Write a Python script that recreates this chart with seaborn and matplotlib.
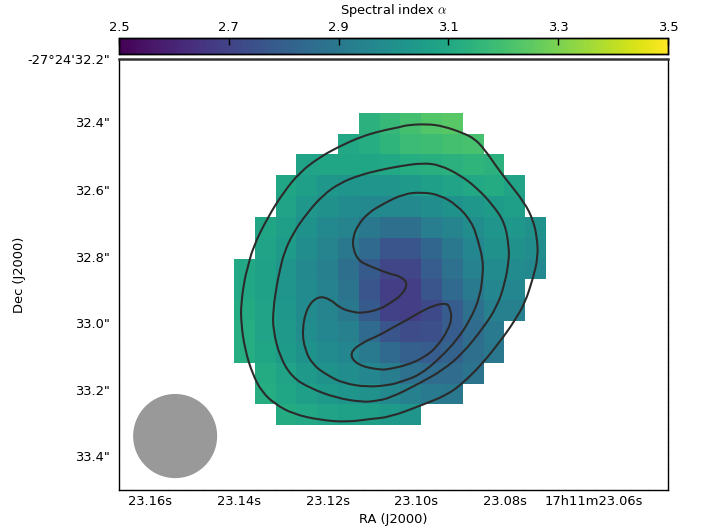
import numpy as np
import pandas as pd
import seaborn as sns
import matplotlib.pyplot as plt
from matplotlib.patches import Circle, PathPatch
from matplotlib.path import Path
from matplotlib.ticker import FixedLocator

plt.rcParams['mathtext.fontset'] = 'cm'

# Spectral index per map pixel, row by row from the top: (first column, values)
rows = [
    (6, [3.14, 3.17, 3.20, 3.23, 3.24]),
    (5, [3.10, 3.12, 3.15, 3.18, 3.19, 3.20, 3.21]),
    (3, [3.08, 3.09, 3.09, 3.09, 3.10, 3.12, 3.13, 3.14, 3.15, 3.14]),
    (2, [3.09, 3.06, 3.03, 3.02, 3.02, 3.02, 3.04, 3.06, 3.08, 3.10, 3.11, 3.08]),
    (2, [3.08, 3.03, 3.00, 2.98, 2.97, 2.97, 2.97, 2.99, 3.01, 3.03, 3.05, 3.06]),
    (1, [3.09, 3.06, 3.01, 2.97, 2.95, 2.90, 2.86, 2.86, 2.92, 2.95, 2.99, 3.02, 3.03, 3.00]),
    (1, [3.08, 3.05, 2.99, 2.95, 2.90, 2.84, 2.76, 2.76, 2.83, 2.90, 2.96, 3.00, 3.00, 2.99]),
    (0, [3.10, 3.07, 3.02, 2.97, 2.93, 2.86, 2.78, 2.71, 2.71, 2.79, 2.87, 2.94, 2.98, 2.98, 2.97]),
    (0, [3.10, 3.07, 3.02, 2.98, 2.94, 2.88, 2.76, 2.68, 2.68, 2.76, 2.84, 2.91, 2.96, 2.96]),
    (0, [3.11, 3.08, 3.03, 2.98, 2.95, 2.90, 2.78, 2.69, 2.68, 2.72, 2.79, 2.87, 2.93, 2.93]),
    (0, [3.12, 3.08, 3.04, 2.99, 2.96, 2.93, 2.84, 2.76, 2.73, 2.74, 2.79, 2.85, 2.91]),
    (0, [3.12, 3.09, 3.05, 3.01, 2.98, 2.96, 2.91, 2.84, 2.80, 2.79, 2.81, 2.86, 2.90]),
    (1, [3.11, 3.08, 3.04, 3.01, 2.99, 2.96, 2.92, 2.87, 2.85, 2.85, 2.88]),
    (1, [3.12, 3.09, 3.06, 3.04, 3.02, 3.00, 2.97, 2.93, 2.91, 2.90]),
    (2, [3.11, 3.10, 3.08, 3.07, 3.06, 3.04, 3.02]),
]

# Contours, in map pixels
outer_x = [9.28, 10.05, 11.01, 11.59, 12.07, 12.64, 13.03, 13.99, 14.38, 14.57, 14.62, 14.38, 13.99, 13.51,
           13.03, 11.97, 11.01, 10.24, 9.04, 7.50, 6.54, 5.43, 4.13, 2.84, 1.97, 1.35, 0.91, 0.53, 0.34,
           0.34, 0.53, 0.63, 0.91, 1.63, 2.36, 3.17, 4.13, 5.00, 6.06, 7.02, 7.98, 8.32]
outer_y = [0.54, 0.64, 0.97, 1.26, 1.79, 2.61, 3.13, 4.34, 5.15, 5.97, 6.93, 7.94, 9.14, 9.95,
           10.67, 12.02, 12.98, 13.55, 14.03, 14.61, 14.70, 14.85, 14.75, 14.46, 13.98, 13.41, 12.59, 11.39, 10.09,
           9.13, 7.89, 7.55, 6.45, 5.01, 3.85, 2.85, 2.13, 1.65, 1.17, 0.88, 0.69, 0.59]
middle_x = [2.21, 2.40, 2.84, 3.51, 4.28, 5.10, 6.06, 7.02, 7.98, 9.09, 9.90, 10.87, 11.68, 12.45, 13.03, 13.22,
            13.22, 13.03, 12.64, 11.97, 11.01, 10.05, 8.94, 7.50, 6.78, 6.20, 4.95, 3.65, 2.79, 2.21, 1.88, 1.88,
            2.07]
middle_y = [7.55, 6.74, 5.78, 4.82, 3.95, 3.37, 2.99, 2.75, 2.56, 2.41, 2.51, 2.99, 3.61, 4.43, 5.30, 6.45,
            7.07, 8.18, 9.33, 10.34, 11.54, 12.35, 12.98, 13.70, 13.84, 13.89, 13.70, 13.22, 12.69, 11.73, 10.43, 9.47,
            8.18]
crescent_x = [8.37, 7.98, 7.50, 7.02, 6.39, 5.96, 5.72, 5.72, 5.96, 6.44, 7.16, 8.13, 9.04, 9.90, 10.72, 11.44,
              11.73, 11.97, 11.97, 11.83, 11.35, 10.72, 9.90, 8.94, 7.98, 7.50, 6.39, 5.24, 4.47, 3.80, 3.41, 3.27,
              3.51, 4.04, 4.62, 5.10, 5.72, 6.20, 7.02, 7.50, 8.08]
crescent_y = [8.18, 7.84, 7.74, 7.55, 7.31, 7.07, 6.50, 5.97, 5.39, 4.82, 4.38, 3.90, 3.81, 3.95, 4.43, 5.25,
              6.11, 7.07, 7.70, 8.85, 9.95, 10.91, 11.78, 12.59, 12.93, 13.07, 13.17, 12.98, 12.59, 12.11, 11.39, 10.43,
              9.33, 8.80, 8.94, 9.38, 9.57, 9.62, 9.43, 9.14, 8.75]
core_x = [5.53, 6.20, 7.02, 7.50, 8.32, 8.94, 9.66, 10.24, 10.38, 10.48, 10.29, 9.76, 9.09, 8.32, 7.50, 7.02, 5.91]
core_y = [11.54, 11.01, 10.67, 10.38, 9.95, 9.57, 9.23, 9.14, 9.38, 9.86, 10.43, 11.25, 11.78, 12.11, 12.30, 12.35, 12.11]

# Tick positions in map pixels and their labels
ra_ticks = [-4.04, 0.24, 4.52, 8.75, 13.03, 17.31]
ra_labels = ['23.16s', '23.14s', '23.12s', '23.10s', '23.08s', '17h11m23.06s']
dec_ticks = [-2.58, 0.45, 3.71, 6.93, 10.10, 13.30, 16.50]
dec_labels = ['-27°24\'32.2"', '32.4"', '32.6"', '32.8"', '33.0"', '33.2"', '33.4"']
cbar_ticks = [2.5, 2.7, 2.9, 3.1, 3.3, 3.5]


def closed_curve(xs, ys):
    # read points are the control points of a closed quadratic curve
    pts = np.column_stack([xs, ys])
    mids = (pts + np.roll(pts, -1, axis=0)) / 2
    verts = [mids[-1]]
    codes = [Path.MOVETO]
    for p, m in zip(pts, mids):
        verts += [p, m]
        codes += [Path.CURVE3, Path.CURVE3]
    return Path(verts, codes)


grid = np.full((15, 15), np.nan)
for i, (start, values) in enumerate(rows):
    grid[i, start:start + len(values)] = values
alpha_df = pd.DataFrame(grid)

fig = plt.figure(figsize=(7.02, 5.30), dpi=100)
ax = fig.add_axes([119 / 702, 1 - 490 / 530, 549 / 702, 431 / 530])
cax = fig.add_axes([119 / 702, 1 - 54 / 530, 549 / 702, 16 / 530])

sns.heatmap(alpha_df, ax=ax, cbar_ax=cax, cmap='viridis', vmin=2.5, vmax=3.5, square=False,
            xticklabels=False, yticklabels=False, linewidths=0,
            cbar_kws={'orientation': 'horizontal', 'ticks': cbar_ticks})

ax.set_xlim(-5.53, 20.87)
ax.set_ylim(18.11, -2.58)

for cx, cy in [(outer_x, outer_y), (middle_x, middle_y), (crescent_x, crescent_y), (core_x, core_y)]:
    ax.add_patch(PathPatch(closed_curve(cx, cy), fill=False, edgecolor='#2b2b2b', lw=1.5, zorder=3))

ax.add_patch(Circle((-2.83, 15.52), 2.02, color='#999999', lw=0, zorder=3))

ax.set_xticks(ra_ticks)
ax.set_xticklabels(ra_labels, fontsize=9.4)
ax.set_yticks(dec_ticks)
ax.set_yticklabels(dec_labels, fontsize=9.4)
ax.xaxis.set_minor_locator(FixedLocator(np.arange(ra_ticks[0] - 0.856, 21, 0.856)))
ax.yaxis.set_minor_locator(FixedLocator(np.arange(dec_ticks[1] - 3.2, 19, 0.64)))
ax.tick_params(axis='both', which='major', length=3, width=0.8, direction='inout', color='white',
               pad=5, top=True, right=True)
ax.tick_params(axis='x', which='major', pad=2)
ax.tick_params(axis='both', which='minor', length=2, width=0.5, direction='inout', color='#dddddd',
               top=True, right=True)
ax.set_xlabel('RA (J2000)', fontsize=9.4, labelpad=4)
ax.set_ylabel('Dec (J2000)', fontsize=9.4, labelpad=1)
for side in ax.spines:
    ax.spines[side].set_visible(True)
    ax.spines[side].set_color('black')
    ax.spines[side].set_linewidth(1.0)
ax.spines['top'].set_linewidth(1.8)
ax.spines['top'].set_color('#333333')

cax.xaxis.set_ticks_position('top')
cax.xaxis.set_label_position('top')
cax.tick_params(axis='x', direction='in', length=5, width=1, color='black', labelsize=9.4, pad=3)
cax.set_xlabel(r'Spectral index $\alpha$', fontsize=9.4, labelpad=5)
for spine in cax.spines.values():
    spine.set_visible(True)
    spine.set_linewidth(1.0)

fig.savefig('out.png', dpi=100)
